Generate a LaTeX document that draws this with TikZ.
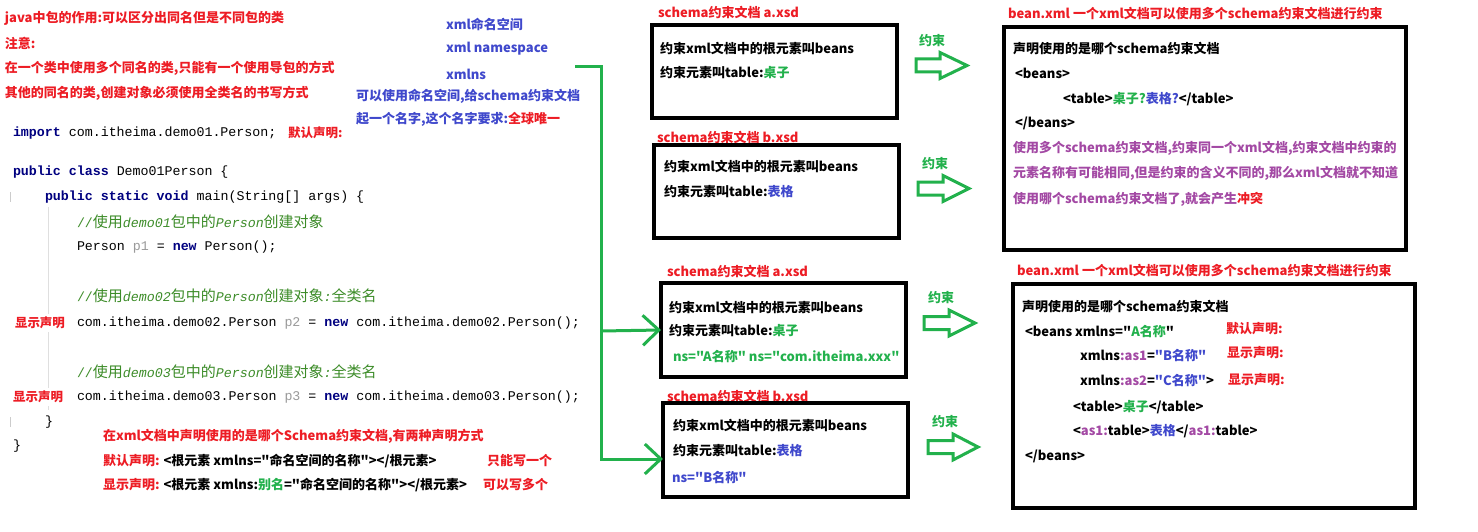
\documentclass[tikz,border=0pt]{standalone}
\usepackage{fontspec}
\setmainfont{Noto Sans CJK SC}[Ligatures=TeXOff]
\setmonofont{Liberation Mono}
\usetikzlibrary{arrows.meta}
\definecolor{pred}{HTML}{ED1C24}
\definecolor{pgreen}{HTML}{22B14C}
\definecolor{pblue}{HTML}{3F48CC}
\definecolor{ppurple}{HTML}{A349A4}
\definecolor{kw}{HTML}{000080}
\definecolor{cmt}{HTML}{3C8C28}
\definecolor{var}{HTML}{9A9A9A}
\newcommand\kwd[1]{\textcolor{kw}{\bfseries #1}}
\newcommand\vr[1]{\textcolor{var}{#1}}
\newcommand\zh[1]{{\normalfont\fontsize{15}{15}\selectfont #1}}
\newcommand\gr[1]{\textcolor{pgreen}{#1}}
\newcommand\bl[1]{\textcolor{pblue}{#1}}
\newcommand\pu[1]{\textcolor{ppurple}{#1}}
\newcommand\rd[1]{\textcolor{pred}{#1}}
\newcommand\blockarrow[4]{\draw[pgreen, line width=3pt, line join=miter]
  (#1,#4-6.5) -- (#2,#4-6.5) -- (#2,#4-13) -- (#3,#4) -- (#2,#4+13) -- (#2,#4+6.5) -- (#1,#4+6.5) -- cycle;}
\tikzset{
  txt/.style={anchor=west, inner sep=0pt, outer sep=0pt, font=\fontsize{13}{13}\selectfont\bfseries},
  rnote/.style={txt, text=pred},
  bnote/.style={txt, text=pblue},
  codeln/.style={anchor=west, inner sep=0pt, outer sep=0pt, font=\ttfamily\fontsize{13.3}{13.3}\selectfont},
  sbox/.style={draw, line width=3.3pt, anchor=north west, inner sep=0pt, outer sep=0pt},
  conn/.style={pgreen, line width=3pt, line join=miter, -{Straight Barb[length=16pt,width=30pt]}},
  lbl/.style={txt, text=pgreen},
}
\begin{document}
\begin{tikzpicture}[x=1pt,y=-1pt]
\fill[white] (0,0) rectangle (1478,532);
\useasboundingbox (0,0) rectangle (1478,532);

% top-left notes
\node[rnote] (n1) at (5,18) {java中包的作用:可以区分出同名但是不同包的类};
\node[rnote] (n2) at (5,43) {注意:};
\node[rnote] (n3) at (5,68) {在一个类中使用多个同名的类,只能有一个使用导包的方式};
\node[rnote] (n4) at (5,93) {其他的同名的类,创建对象必须使用全类名的书写方式};

% namespace notes
\node[bnote] (ns1) at (446,24) {xml命名空间};
\node[bnote] (ns2) at (446,49) {xml namespace};
\node[bnote] (ns3) at (446,74) {xmlns};
\node[bnote] (ns4) at (356,96) {可以使用命名空间,给schema约束文档};
\node[bnote] (ns5) at (356,119) {起一个名字,这个名字要求:\rd{全球唯一}};

% code
\draw[gray!25, line width=0.8pt] (48,207) -- (48,410);
\draw[gray!40, line width=0.8pt] (10,192) -- (10,202);
\draw[gray!40, line width=0.8pt] (10,417) -- (10,427);
\node[codeln] (imp) at (13,133) {\kwd{import} com.itheima.demo01.Person;};
\node[rnote, font=\fontsize{12.5}{12.5}\selectfont\bfseries] (mr1) at (288,133) {默认声明:};
\node[codeln] (cls) at (13,172) {\kwd{public} \kwd{class} Demo01Person \{};
\node[codeln] (mn) at (45,197) {\kwd{public} \kwd{static} \kwd{void} main(String[] args) \{};
\node[codeln, text=cmt] (c1) at (77,222) {//\zh{使用}{\itshape demo01}\zh{包中的}{\itshape Person}\zh{创建对象}};
\node[codeln] (l1) at (77,247) {Person \vr{p1} = \kwd{new} Person();};
\node[codeln, text=cmt] (c2) at (77,296) {//\zh{使用}{\itshape demo02}\zh{包中的}{\itshape Person}\zh{创建对象}{\itshape :}\zh{全类名}};
\node[rnote, font=\fontsize{12.5}{12.5}\selectfont\bfseries, fill=white, inner ysep=3pt] (xs1) at (15,323) {显示声明};
\node[codeln] (l2) at (77,323) {com.itheima.demo02.Person \vr{p2} = \kwd{new} com.itheima.demo02.Person();};
\node[codeln, text=cmt] (c3) at (77,372) {//\zh{使用}{\itshape demo03}\zh{包中的}{\itshape Person}\zh{创建对象}{\itshape :}\zh{全类名}};
\node[rnote, font=\fontsize{12.5}{12.5}\selectfont\bfseries, fill=white, inner ysep=3pt] (xs2) at (13,397) {显示声明};
\node[codeln] (l3) at (77,397) {com.itheima.demo03.Person \vr{p3} = \kwd{new} com.itheima.demo03.Person();};
\node[codeln] (e1) at (45,422) {\}};
\node[codeln] (e2) at (13,446) {\}};

% bottom notes
\node[rnote] (b1) at (103,436) {在xml文档中声明使用的是哪个Schema约束文档,有两种声明方式};
\node[txt] (b2) at (103,461) {\rd{默认声明:} <根元素 xmlns="命名空间的名称"></根元素>};
\node[rnote] (b2r) at (487,461) {只能写一个};
\node[txt] (b3) at (103,485) {\rd{显示声明:} <根元素 xmlns:\gr{别名}="命名空间的名称"></根元素>};
\node[rnote] (b3r) at (483,485) {可以写多个};

% middle boxes
\node[rnote] (tA1) at (658,12) {schema约束文档 a.xsd};
\node[sbox, minimum width=245pt, minimum height=93pt] (boxA1) at (652,25) {};
\node[txt] (A1a) at (660,49) {约束xml文档中的根元素叫beans};
\node[txt] (A1b) at (660,73) {约束元素叫table:\gr{桌子}};

\node[rnote] (tB1) at (657,137) {schema约束文档 b.xsd};
\node[sbox, minimum width=245pt, minimum height=93pt] (boxB1) at (654,145) {};
\node[txt] (B1a) at (664,167) {约束xml文档中的根元素叫beans};
\node[txt] (B1b) at (664,192) {约束元素叫table:\bl{表格}};

\node[rnote] (tA2) at (667,271) {schema约束文档 a.xsd};
\node[sbox, minimum width=245pt, minimum height=94pt] (boxA2) at (661,283) {};
\node[txt] (A2a) at (669,307) {约束xml文档中的根元素叫beans};
\node[txt] (A2b) at (669,331) {约束元素叫table:\gr{桌子}};
\node[txt, text=pgreen] (A2c) at (673,357) {ns="A名称" ns="com.itheima.xxx"};

\node[rnote] (tB2) at (667,396) {schema约束文档 b.xsd};
\node[sbox, minimum width=245pt, minimum height=94pt] (boxB2) at (663,403) {};
\node[txt] (B2a) at (673,425) {约束xml文档中的根元素叫beans};
\node[txt] (B2b) at (673,451) {约束元素叫table:\bl{表格}};
\node[txt, text=pblue] (B2c) at (672,478) {ns="B名称"};

% block arrows
\node[lbl] (y1) at (919,41) {约束};
\blockarrow{916}{940}{967}{65.5}
\node[lbl] (y2) at (922,164) {约束};
\blockarrow{918}{943}{969}{188.5}
\node[lbl] (y3) at (928,298) {约束};
\blockarrow{924}{949}{975}{323}
\node[lbl] (y4) at (932,422) {约束};
\blockarrow{928}{953}{978}{447}

% right boxes
\node[rnote] (tR1) at (1008,14) {bean.xml 一个xml文档可以使用多个schema约束文档进行约束};
\node[sbox, minimum width=402pt, minimum height=223pt] (boxR1) at (1004,27) {};
\node[txt] (R1a) at (1013,49) {声明使用的是哪个schema约束文档};
\node[txt] (R1b) at (1015,73) {<beans>};
\node[txt] (R1c) at (1063,99) {<table>\gr{桌子?}\bl{表格?}</table>};
\node[txt] (R1d) at (1015,123) {</beans>};
\node[txt, text=ppurple] (R1e) at (1013,148) {使用多个schema约束文档,约束同一个xml文档,约束文档中约束的};
\node[txt, text=ppurple] (R1f) at (1013,173) {元素名称有可能相同,但是约束的含义不同的,那么xml文档就不知道};
\node[txt, text=ppurple] (R1g) at (1013,199) {使用哪个schema约束文档了,就会产生\rd{冲突}};

\node[rnote] (tR2) at (1017,271) {bean.xml 一个xml文档可以使用多个schema约束文档进行约束};
\node[sbox, minimum width=402pt, minimum height=224pt] (boxR2) at (1013,284) {};
\node[txt] (R2a) at (1022,307) {声明使用的是哪个schema约束文档};
\node[txt] (R2b) at (1025,332) {<beans xmlns="\gr{A名称}"};
\node[rnote] (R2bn) at (1226,329) {默认声明:};
\node[txt] (R2c) at (1080,356) {xmlns\pu{:as1}=\bl{"B名称"}};
\node[rnote] (R2cn) at (1227,353) {显示声明:};
\node[txt] (R2d) at (1080,381) {xmlns\pu{:as2}=\bl{"C名称"}>};
\node[rnote] (R2dn) at (1228,380) {显示声明:};
\node[txt] (R2e) at (1073,407) {<table>\gr{桌子}</table>};
\node[txt] (R2f) at (1073,431) {<\pu{as1:}table>\bl{表格}</\pu{as1:}table>};
\node[txt] (R2g) at (1025,456) {</beans>};

% green connector
\coordinate (cstart) at (575,67);
\coordinate (cbend) at (601,67);
\coordinate (cbr) at (601,331);
\draw[conn] (cstart) -- (cbend) |- ([yshift=-9pt]boxB2.west);
\draw[conn] (cbr) -- (boxA2.west);
\end{tikzpicture}
\end{document}
